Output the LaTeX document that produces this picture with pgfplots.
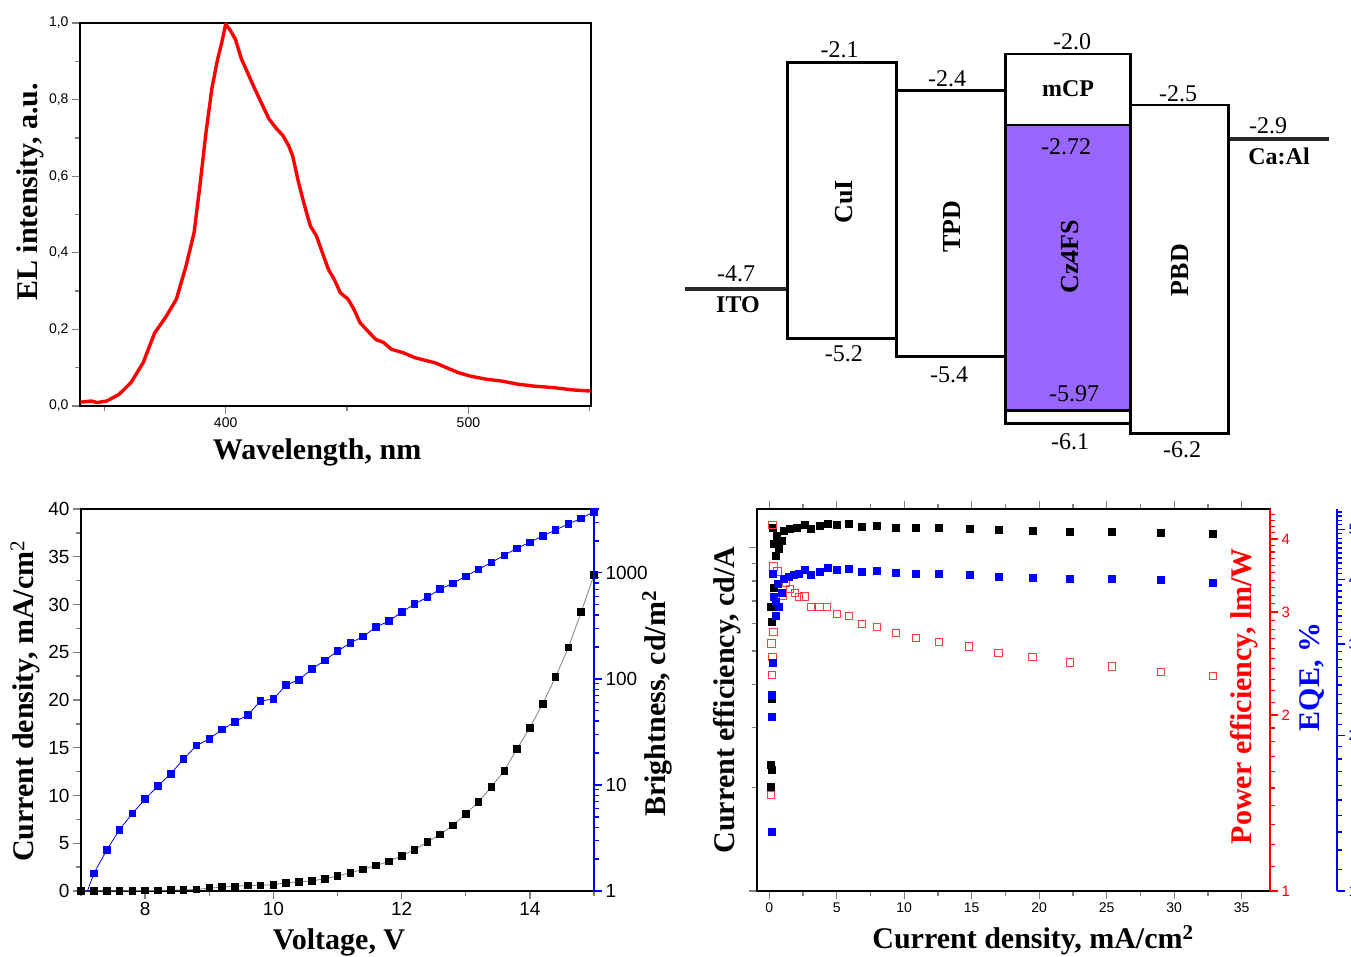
\documentclass[border=0pt]{standalone}
\usepackage{pgfplots}
\pgfplotsset{compat=1.18}
\usepackage{fontspec}
\setmainfont{Liberation Serif}
\newfontfamily\arial{Liberation Sans}
\definecolor{purp}{RGB}{153,102,255}
\definecolor{lred}{RGB}{255,60,60}
\definecolor{dgray}{RGB}{40,40,40}
\begin{document}
\begin{tikzpicture}
\useasboundingbox (0pt,0pt) rectangle (1351pt,956pt);
\pgfplotsset{
  every axis/.append style={scale only axis, anchor=south west,
    axis line style={line width=1.6pt}, tick style={line width=1.3pt},
    major tick length=8pt, minor tick length=5pt, tick align=outside},
}
% ---------------- Panel A: EL spectrum
\begin{axis}[at={(80pt,550pt)}, width=511pt, height=383pt,
  xmin=340, xmax=550.5, ymin=0, ymax=1,
  xtick={400,500}, xticklabels={400,500}, minor xtick={350,450,550},
  ytick={0,0.2,0.4,0.6,0.8,1.0}, yticklabels={{0,0},{0,2},{0,4},{0,6},{0,8},{1,0}},
  minor ytick={0.1,0.3,0.5,0.7,0.9},
  xtick pos=left, ytick pos=left,
  ticklabel style={font=\arial\fontsize{14}{14}\selectfont},
  xlabel={Wavelength, nm}, ylabel={EL intensity, a.u.},
  label style={font=\fontsize{30}{30}\selectfont\bfseries},
  xlabel style={at={(axis description cs:0.464,-0.12)}, anchor=center},
  ylabel style={at={(axis description cs:-0.098,0.559)}, anchor=center},
]
\addplot[red, line width=3.4pt, line join=round] table {
340.2 0.010
344.7 0.013
347 0.009
351 0.013
356 0.030
361 0.061
366 0.113
370.7 0.19
375.6 0.235
379.7 0.279
383.7 0.366
387 0.453
389.4 0.575
391.9 0.714
394.3 0.828
396.7 0.906
398.4 0.949
400 0.997
401.6 0.984
404 0.958
406.5 0.906
409 0.871
411.4 0.836
414.6 0.793
417.9 0.749
421.1 0.723
423.6 0.706
426 0.679
427.6 0.653
430 0.584
432.5 0.523
434.9 0.470
437.4 0.444
439.8 0.401
442.3 0.357
444.7 0.331
447.2 0.296
450.4 0.279
452.8 0.253
455.3 0.218
458.5 0.196
461.8 0.174
465 0.166
468.3 0.148
473.2 0.139
478 0.126
482.9 0.118
486.2 0.113
491 0.100
495.9 0.087
500.8 0.078
507.3 0.070
513.8 0.065
520.3 0.057
526.8 0.052
535 0.048
543 0.042
550.4 0.039
};
\end{axis}
% ---------------- Panel B: energy diagram
\begin{axis}[at={(685pt,496pt)}, width=644pt, height=430pt,
  xmin=685, xmax=1329, ymin=-6.486, ymax=-1.735, axis lines=none, clip=false]
\addplot[dgray, line width=4pt] coordinates {(685,-4.593) (787.8,-4.593)};
\addplot[dgray, line width=4pt] coordinates {(1228.3,-2.943) (1328.7,-2.943)};
\addplot[draw=black, line width=2.7pt, fill=white] coordinates {(787.8,-2.096) (896.4,-2.096) (896.4,-5.141) (787.8,-5.141)} -- cycle;
\addplot[draw=black, line width=2.7pt, fill=white] coordinates {(896.4,-2.406) (1005.4,-2.406) (1005.4,-5.345) (896.4,-5.345)} -- cycle;
\addplot[draw=black, line width=2.7pt, fill=white] coordinates {(1005.4,-2.0) (1130.4,-2.0) (1130.4,-6.081) (1005.4,-6.081)} -- cycle;
\addplot[draw=black, line width=2.7pt, fill=purp] coordinates {(1005.4,-2.785) (1130.4,-2.785) (1130.4,-5.941) (1005.4,-5.941)} -- cycle;
\addplot[draw=black, line width=2.7pt, fill=white] coordinates {(1130.4,-2.564) (1228.3,-2.564) (1228.3,-6.191) (1130.4,-6.191)} -- cycle;
\begin{scope}[every node/.style={inner sep=0pt, anchor=center, font=\fontsize{24}{24}\selectfont}]
\node at (axis cs:839.5,-1.955) {-2.1};
\node at (axis cs:947,-2.27) {-2.4};
\node at (axis cs:1072,-1.862) {-2.0};
\node at (axis cs:1178,-2.44) {-2.5};
\node at (axis cs:1268,-2.79) {-2.9};
\node at (axis cs:1066,-3.024) {-2.72};
\node at (axis cs:736,-4.43) {-4.7};
\node at (axis cs:843.8,-5.307) {-5.2};
\node at (axis cs:949,-5.547) {-5.4};
\node at (axis cs:1074,-5.749) {-5.97};
\node at (axis cs:1070,-6.284) {-6.1};
\node at (axis cs:1182,-6.376) {-6.2};
\node[font=\fontsize{24}{24}\selectfont\bfseries] at (axis cs:1068,-2.379) {mCP};
\node[font=\fontsize{24}{24}\selectfont\bfseries] at (axis cs:1279,-3.135) {Ca:Al};
\node[font=\fontsize{24}{24}\selectfont\bfseries] at (axis cs:738,-4.773) {ITO};
\node[rotate=90, font=\fontsize{26}{26}\selectfont\bfseries] at (axis cs:844,-3.632) {CuI};
\node[rotate=90, font=\fontsize{26}{26}\selectfont\bfseries] at (axis cs:951.5,-3.908) {TPD};
\node[rotate=90, font=\fontsize{26}{26}\selectfont\bfseries] at (axis cs:1070,-4.240) {Cz4FS};
\node[rotate=90, font=\fontsize{26}{26}\selectfont\bfseries] at (axis cs:1180,-4.387) {PBD};
\end{scope}
\end{axis}
% ---------------- Panel C: J-V-L
\begin{axis}[at={(81pt,65pt)}, width=513pt, height=382pt,
  xmin=7, xmax=15, ymin=0, ymax=40,
  xtick={8,10,12,14}, xticklabels={8,10,12,14}, minor xtick={7,9,11,13,15},
  ytick={0,5,10,15,20,25,30,35,40}, yticklabels={0,5,10,15,20,25,30,35,40},
  minor ytick={2.5,7.5,12.5,17.5,22.5,27.5,32.5,37.5},
  xtick pos=left, ytick pos=left,
  ticklabel style={font=\arial\fontsize{19}{19}\selectfont},
  xlabel={Voltage, V}, ylabel={Current density, mA/cm\textsuperscript{\mdseries 2}},
  label style={font=\fontsize{30}{30}\selectfont\bfseries},
  xlabel style={at={(axis description cs:0.503,-0.134)}, anchor=center},
  ylabel style={at={(axis description cs:-0.109,0.497)}, anchor=center},
]
\addplot[gray, line width=0.8pt, mark=square*, mark size=3.3pt, mark options={black, fill=black, solid}] table {
7.0 0
7.2 0.01
7.4 0.02
7.6 0.03
7.8 0.04
8.0 0.05
8.2 0.07
8.4 0.09
8.6 0.12
8.8 0.16
9.0 0.30
9.2 0.40
9.4 0.50
9.6 0.58
9.8 0.60
10.0 0.66
10.2 0.87
10.4 0.97
10.6 1.05
10.8 1.29
11.0 1.57
11.2 1.92
11.4 2.26
11.6 2.68
11.8 3.10
12.0 3.69
12.2 4.32
12.4 5.12
12.6 5.92
12.8 6.86
13.0 8.08
13.2 9.34
13.4 10.9
13.6 12.6
13.8 14.9
14.0 17.1
14.2 19.6
14.4 22.4
14.6 25.5
14.8 29.2
15.0 33.1
};
\end{axis}
\begin{axis}[at={(81pt,65pt)}, width=513pt, height=382pt,
  xmin=7, xmax=15, ymode=log, ymin=1, ymax=4000,
  axis x line=none, axis y line*=right,
  y axis line style={blue}, ytick style={blue},
  ytick={1,10,100,1000}, yticklabels={1,10,100,1000},
  minor ytick={2,3,4,5,6,7,8,9,20,30,40,50,60,70,80,90,200,300,400,500,600,700,800,900,2000,3000,4000},
  ticklabel style={font=\arial\fontsize{19}{19}\selectfont},
  ylabel={Brightness, cd/m\textsuperscript{2}},
  label style={font=\fontsize{30}{30}\selectfont\bfseries},
  ylabel style={at={(axis description cs:1.123,0.49)}, anchor=center, rotate=0},
]
\addplot[blue, line width=0.8pt, mark=square*, mark size=3.3pt, mark options={blue, fill=blue, solid}] table {
7.0 0.685
7.2 1.46
7.4 2.43
7.6 3.78
7.8 5.38
8.0 7.35
8.2 9.8
8.4 12.7
8.6 17.6
8.8 23.5
9.0 27.2
9.2 33.3
9.4 39.3
9.6 45.7
9.8 61.9
10.0 64.6
10.2 87.5
10.4 98.3
10.6 124
10.8 149
11.0 183
11.2 218
11.4 251
11.6 308
11.8 351
12.0 426
12.2 507
12.4 590
12.6 702
12.8 798
13.0 929
13.2 1082
13.4 1250
13.6 1466
13.8 1706
14.0 1942
14.2 2228
14.4 2536
14.6 2890
14.8 3266
15.0 3776
};
\end{axis}
% ---------------- Panel D: efficiencies
\begin{axis}[at={(757pt,65pt)}, width=513pt, height=382pt,
  xmin=-0.9, xmax=37.1, ymode=log, ymin=1, ymax=12.96,
  xtick={0,5,10,15,20,25,30,35}, xticklabels={0,5,10,15,20,25,30,35},
  minor xtick={2.5,7.5,12.5,17.5,22.5,27.5,32.5},
  ytick={1,10}, yticklabels={,}, minor ytick={2,3,4,5,6,7,8,9},
  xtick pos=both, ytick pos=left,
  ticklabel style={font=\arial\fontsize{14}{14}\selectfont},
  xlabel={Current density, mA/cm\textsuperscript{2}}, ylabel={Current efficiency, cd/A},
  label style={font=\fontsize{30}{30}\selectfont\bfseries},
  xlabel style={at={(axis description cs:0.538,-0.128)}, anchor=center},
  ylabel style={at={(axis description cs:-0.058,0.5)}, anchor=center},
]
\addplot[only marks, mark=square*, mark size=3.5pt, mark options={black, fill=black}] table {
0.24 11.45
0.57 10.83
0.94 10.48
0.32 10.25
0.69 9.91
0.50 9.48
1.06 11.2
1.55 11.33
2.05 11.45
2.66 11.66
3.11 11.37
3.72 11.58
4.31 11.76
5.01 11.64
5.89 11.72
6.88 11.53
7.97 11.60
9.37 11.45
10.87 11.45
12.57 11.45
14.82 11.35
16.99 11.28
19.5 11.22
22.26 11.13
25.37 11.13
29.0 11.05
32.85 10.98
0.32 7.67
0.13 6.71
0.2 6.07
0.2 3.62
0.15 2.34
0.2 2.26
0.1 2.01
};
\end{axis}
% power efficiency: log10 scale drawn on a linear axis
\begin{axis}[at={(757pt,65pt)}, width=513pt, height=382pt,
  xmin=-0.9, xmax=37.1, ymin=0, ymax=0.65321,
  axis x line=none, axis y line*=right,
  y axis line style={red}, ytick style={red},
  ytick={0,0.30103,0.47712,0.60206}, yticklabels={1,2,3,4},
  minor ytick={0.04139,0.07918,0.11394,0.14613,0.17609,0.20412,0.23045,0.25527,0.27875,0.32222,0.34242,0.36173,0.38021,0.39794,0.41497,0.43136,0.44716,0.46240,0.49136,0.50515,0.51851,0.53148,0.54407,0.55630,0.56820,0.57978,0.59106,0.61278,0.62325,0.63347,0.64345},
  ticklabel style={font=\arial\fontsize{15}{15}\selectfont, red},
  ylabel={Power efficiency, lm/W},
  label style={font=\fontsize{30}{30}\selectfont\bfseries, red},
  ylabel style={at={(axis description cs:0.949,0.51)}, anchor=center, rotate=0},
]
\addplot[only marks, mark=square, mark size=3.6pt, mark options={lred, line width=0.9pt}] table[y expr={log10(\thisrowno{1})}] {
0.24 4.23
0.32 3.59
0.61 3.52
1.26 3.36
1.55 3.29
1.92 3.23
1.01 3.20
2.61 3.19
2.2 3.18
3.11 3.06
3.72 3.06
4.31 3.06
5.01 2.98
5.89 2.95
6.88 2.86
7.97 2.83
9.37 2.76
10.87 2.71
12.57 2.67
14.82 2.62
16.99 2.55
19.5 2.51
22.26 2.46
25.37 2.42
29.0 2.37
32.85 2.33
0.32 2.77
0.17 2.65
0.24 2.51
0.22 2.34
0.15 1.46
};
\end{axis}
% EQE: log10 scale drawn on a linear axis
\begin{axis}[at={(757pt,65pt)}, width=580pt, height=382pt,
  xmin=-0.9, xmax=42.06, ymin=0, ymax=0.73799,
  axis x line=none, axis y line*=right,
  y axis line style={blue}, ytick style={blue},
  ytick={0,0.30103,0.47712,0.60206,0.69897}, yticklabels={1,2,3,4,5},
  minor ytick={0.04139,0.07918,0.11394,0.14613,0.17609,0.20412,0.23045,0.25527,0.27875,0.32222,0.34242,0.36173,0.38021,0.39794,0.41497,0.43136,0.44716,0.46240,0.49136,0.50515,0.51851,0.53148,0.54407,0.55630,0.56820,0.57978,0.59106,0.61278,0.62325,0.63347,0.64345,0.65321,0.66276,0.67210,0.68124,0.69020,0.70757,0.71600,0.72428,0.73239},
  ticklabel style={font=\arial\fontsize{15}{15}\selectfont, blue},
  ylabel={EQE, \%},
  label style={font=\fontsize{30}{30}\selectfont\bfseries, blue},
  ylabel style={at={(axis description cs:0.957,0.56)}, anchor=center, rotate=0},
]
\addplot[only marks, mark=square*, mark size=3.5pt, mark options={blue, fill=blue}] table[y expr={log10(\thisrowno{1})}] {
0.24 4.10
0.61 3.92
1.06 4.02
1.43 4.05
1.80 4.08
2.17 4.10
2.66 4.17
3.11 4.08
3.72 4.14
4.31 4.21
5.01 4.17
5.89 4.19
6.88 4.14
7.97 4.16
9.37 4.12
10.87 4.10
12.57 4.10
14.82 4.08
16.99 4.05
19.5 4.03
22.26 4.02
25.37 4.01
29.0 3.99
32.85 3.95
0.32 3.70
0.45 3.62
0.69 3.54
0.94 3.77
0.52 3.40
0.29 2.76
0.2 2.39
0.2 2.17
0.2 1.30
};
\end{axis}
\end{tikzpicture}
\end{document}
